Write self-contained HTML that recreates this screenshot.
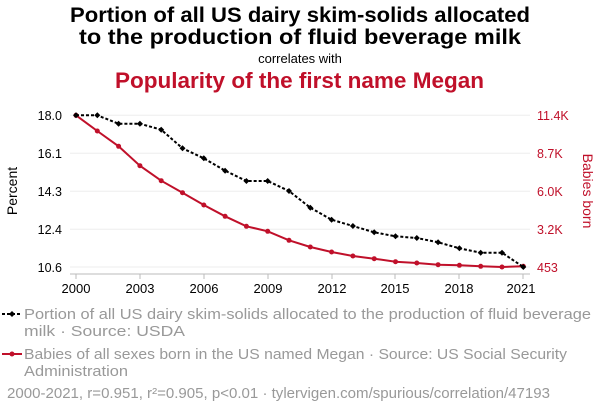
<!DOCTYPE html>
<html><head><style>
body{margin:0;background:#fff;width:600px;height:414px;overflow:hidden;font-family:"Liberation Sans",Arial,sans-serif}
</style></head><body>
<svg width="600" height="414" xmlns="http://www.w3.org/2000/svg" font-family="Liberation Sans, Arial, sans-serif">
<text x="70" y="22" textLength="460" lengthAdjust="spacingAndGlyphs" font-size="21" font-weight="bold" fill="#000">Portion of all US dairy skim-solids allocated</text>
<text x="79" y="44" textLength="442" lengthAdjust="spacingAndGlyphs" font-size="21" font-weight="bold" fill="#000">to the production of fluid beverage milk</text>
<text x="300" y="63" text-anchor="middle" font-size="13" fill="#000">correlates with</text>
<text x="115" y="88" textLength="369" lengthAdjust="spacingAndGlyphs" font-size="22" font-weight="bold" fill="#c0102a">Popularity of the first name Megan</text>
<g stroke="#eee" stroke-width="1">
<line x1="70" y1="115.3" x2="530" y2="115.3"/><line x1="70" y1="153.3" x2="530" y2="153.3"/><line x1="70" y1="191.3" x2="530" y2="191.3"/><line x1="70" y1="229.3" x2="530" y2="229.3"/><line x1="70" y1="267" x2="530" y2="267"/>
</g>
<line x1="70" y1="274" x2="530" y2="274" stroke="#bbb"/>
<g font-size="12.5" fill="#000" text-anchor="end">
<text x="62" y="120">18.0</text><text x="62" y="158">16.1</text><text x="62" y="196">14.3</text><text x="62" y="234">12.4</text><text x="62" y="272">10.6</text>
</g>
<g font-size="12.5" fill="#c0102a" text-anchor="start">
<text x="537" y="120">11.4K</text><text x="537" y="158">8.7K</text><text x="537" y="196">6.0K</text><text x="537" y="234">3.2K</text><text x="537" y="272">453</text>
</g>
<text transform="translate(17,191) rotate(-90)" text-anchor="middle" font-size="14" fill="#000">Percent</text>
<text transform="translate(583,191) rotate(90)" text-anchor="middle" font-size="14" fill="#c0102a">Babies born</text>
<g font-size="13" fill="#000" text-anchor="middle">
<text x="76" y="293">2000</text><text x="140" y="293">2003</text><text x="204" y="293">2006</text><text x="268" y="293">2009</text><text x="332" y="293">2012</text><text x="395" y="293">2015</text><text x="459" y="293">2018</text><text x="521" y="293">2021</text>
</g>
<g stroke="#bbb"><line x1="76" y1="274" x2="76" y2="279"/><line x1="140" y1="274" x2="140" y2="279"/><line x1="204" y1="274" x2="204" y2="279"/><line x1="268" y1="274" x2="268" y2="279"/><line x1="332" y1="274" x2="332" y2="279"/><line x1="395" y1="274" x2="395" y2="279"/><line x1="459" y1="274" x2="459" y2="279"/><line x1="523" y1="274" x2="523" y2="279"/></g>
<polyline fill="none" stroke="#c0102a" stroke-width="2" points="76,115.3 97.3,131 118.6,146.3 139.9,165.7 161.2,180.7 182.5,192.7 203.8,205 225.1,216.3 246.4,226.3 267.7,231.3 289,240.3 310.3,247 331.6,252 352.9,256 374.2,258.7 395.5,261.7 416.8,263 438.1,264.7 459.4,265.3 480.7,266.3 502,267 523.3,266.3"/>
<g fill="#c0102a">
<circle cx="76" cy="115.3" r="2.5"/><circle cx="97.3" cy="131" r="2.5"/><circle cx="118.6" cy="146.3" r="2.5"/><circle cx="139.9" cy="165.7" r="2.5"/><circle cx="161.2" cy="180.7" r="2.5"/><circle cx="182.5" cy="192.7" r="2.5"/><circle cx="203.8" cy="205" r="2.5"/><circle cx="225.1" cy="216.3" r="2.5"/><circle cx="246.4" cy="226.3" r="2.5"/><circle cx="267.7" cy="231.3" r="2.5"/><circle cx="289" cy="240.3" r="2.5"/><circle cx="310.3" cy="247" r="2.5"/><circle cx="331.6" cy="252" r="2.5"/><circle cx="352.9" cy="256" r="2.5"/><circle cx="374.2" cy="258.7" r="2.5"/><circle cx="395.5" cy="261.7" r="2.5"/><circle cx="416.8" cy="263" r="2.5"/><circle cx="438.1" cy="264.7" r="2.5"/><circle cx="459.4" cy="265.3" r="2.5"/><circle cx="480.7" cy="266.3" r="2.5"/><circle cx="502" cy="267" r="2.5"/><circle cx="523.3" cy="266.3" r="2.5"/>
</g>
<polyline fill="none" stroke="#000" stroke-width="2" stroke-dasharray="3,2" points="76,115.3 97.3,115.3 118.6,123.7 139.9,123.7 161.2,129.7 182.5,148.3 203.8,158.3 225.1,170.7 246.4,181 267.7,181 289,191 310.3,207.7 331.6,219.7 352.9,226 374.2,232.3 395.5,236.3 416.8,238 438.1,242.3 459.4,248.3 480.7,252.7 502,252.7 523.3,267"/>
<g fill="#000">
<path d="M76,112.3l3,3-3,3-3-3z"/><path d="M97.3,112.3l3,3-3,3-3-3z"/><path d="M118.6,120.7l3,3-3,3-3-3z"/><path d="M139.9,120.7l3,3-3,3-3-3z"/><path d="M161.2,126.7l3,3-3,3-3-3z"/><path d="M182.5,145.3l3,3-3,3-3-3z"/><path d="M203.8,155.3l3,3-3,3-3-3z"/><path d="M225.1,167.7l3,3-3,3-3-3z"/><path d="M246.4,178l3,3-3,3-3-3z"/><path d="M267.7,178l3,3-3,3-3-3z"/><path d="M289,188l3,3-3,3-3-3z"/><path d="M310.3,204.7l3,3-3,3-3-3z"/><path d="M331.6,216.7l3,3-3,3-3-3z"/><path d="M352.9,223l3,3-3,3-3-3z"/><path d="M374.2,229.3l3,3-3,3-3-3z"/><path d="M395.5,233.3l3,3-3,3-3-3z"/><path d="M416.8,235l3,3-3,3-3-3z"/><path d="M438.1,239.3l3,3-3,3-3-3z"/><path d="M459.4,245.3l3,3-3,3-3-3z"/><path d="M480.7,249.7l3,3-3,3-3-3z"/><path d="M502,249.7l3,3-3,3-3-3z"/><path d="M523.3,264l3,3-3,3-3-3z"/>
</g>
<line x1="2" y1="314" x2="22" y2="314" stroke="#000" stroke-width="2" stroke-dasharray="3,2"/>
<path d="M12,311l3,3-3,3-3-3z" fill="#000"/>
<text x="24" y="319" font-size="14.5" textLength="567" lengthAdjust="spacingAndGlyphs" fill="#999">Portion of all US dairy skim-solids allocated to the production of fluid beverage</text>
<text x="24" y="336" font-size="14.5" textLength="161" lengthAdjust="spacingAndGlyphs" fill="#999">milk · Source: USDA</text>
<line x1="2" y1="354" x2="22" y2="354" stroke="#c0102a" stroke-width="2"/>
<circle cx="12" cy="354" r="2.5" fill="#c0102a"/>
<text x="24" y="359" font-size="14.5" textLength="543" lengthAdjust="spacingAndGlyphs" fill="#999">Babies of all sexes born in the US named Megan · Source: US Social Security</text>
<text x="24" y="376" font-size="14.5" textLength="104" lengthAdjust="spacingAndGlyphs" fill="#999">Administration</text>
<text x="7" y="398" font-size="14.5" textLength="543" lengthAdjust="spacingAndGlyphs" fill="#999">2000-2021, r=0.951, r²=0.905, p&lt;0.01 · tylervigen.com/spurious/correlation/47193</text>
</svg>
</body></html>
